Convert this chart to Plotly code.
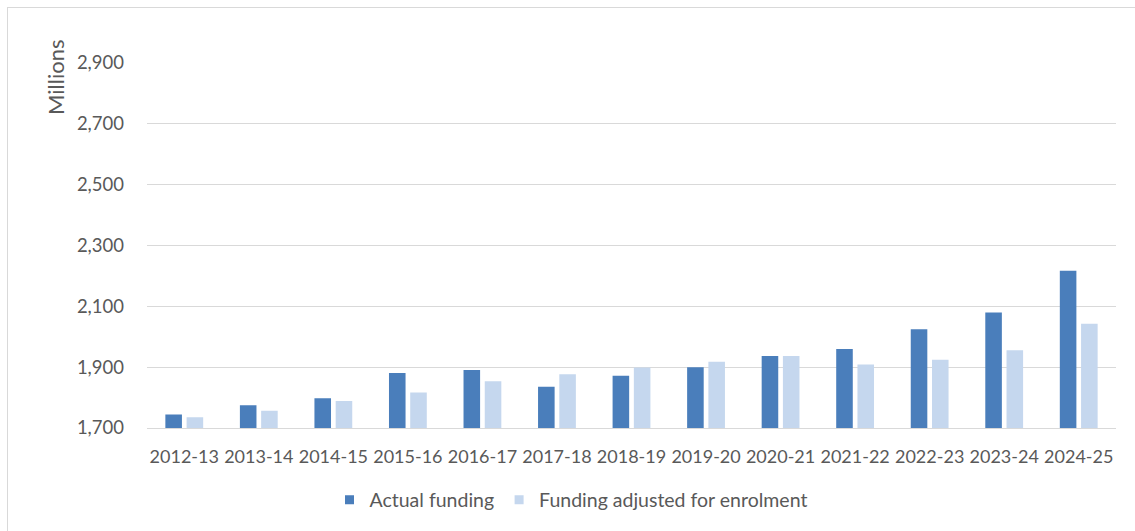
import plotly.graph_objects as go

# School years on the category axis
years = ["2012-13", "2013-14", "2014-15", "2015-16", "2016-17", "2017-18",
         "2018-19", "2019-20", "2020-21", "2021-22", "2022-23", "2023-24", "2024-25"]

# Funding in millions
actual_funding = [1744, 1775, 1798, 1881, 1891, 1836, 1872, 1900, 1937, 1960, 2025, 2080, 2217]
adjusted_funding = [1735, 1757, 1789, 1817, 1854, 1877, 1899, 1918, 1937, 1909, 1924, 1956, 2043]

y_ticks = [1700, 1900, 2100, 2300, 2500, 2700, 2900]
y_tick_text = [f"{v:,}" for v in y_ticks]

series = [("Actual funding", actual_funding, "#4a7ebb"),
          ("Funding adjusted for enrolment", adjusted_funding, "#c5d7ee")]

FONT = "Lato"
TEXT = "#595959"
GRID = "#d9d9d9"

fig = go.Figure()
for name, values, color in series:
    fig.add_trace(go.Bar(x=years, y=values, name=name, showlegend=False,
                         marker_color=color, marker_line_width=0))
# small square legend keys
for name, values, color in series:
    fig.add_trace(go.Scatter(x=[years[0]], y=[None], name=name, mode="markers",
                             marker=dict(symbol="square", size=9, color=color),
                             hoverinfo="skip"))

L, R, T, B = 147, 19, 63, 103
W, H = 1135, 531
pw, ph = W - L - R, H - T - B


def px_x(x):
    return (x - L) / pw


def px_y(y):
    return (H - B - y) / ph


fig.update_layout(
    width=W, height=H,
    margin=dict(l=L, r=R, t=T, b=B, pad=0, autoexpand=False),
    paper_bgcolor="white", plot_bgcolor="white",
    barmode="group", bargap=0.43, bargroupgap=0.22,
    font=dict(family=FONT, size=18, color=TEXT),
    showlegend=True,
    legend=dict(orientation="h", x=px_x(571), xanchor="center",
                y=px_y(500), yanchor="middle",
                font=dict(family=FONT, size=19.5, color=TEXT),
                itemwidth=30, tracegroupgap=0, traceorder="normal"),
    xaxis=dict(range=[-0.5, len(years) - 0.5],
               showgrid=False, showline=True, linecolor=GRID, linewidth=1,
               ticks="", ticklabelstandoff=12, tickangle=0, automargin=False,
               tickfont=dict(family=FONT, size=18, color=TEXT),
               fixedrange=True),
    yaxis=dict(range=[1700, 2900], tickvals=y_ticks, ticktext=y_tick_text,
               showgrid=True, gridcolor=GRID, gridwidth=1, zeroline=False,
               showline=False, ticks="", ticklabelstandoff=22, automargin=False,
               tickfont=dict(family=FONT, size=18.5, color=TEXT)),
    annotations=[dict(text="Millions", textangle=-90, showarrow=False,
                      xref="paper", yref="paper", x=px_x(55), y=px_y(78),
                      xanchor="center", yanchor="middle",
                      font=dict(family=FONT, size=22, color=TEXT))],
    shapes=[
        dict(type="line", xref="paper", yref="paper",
             x0=px_x(7), x1=px_x(W + 5), y0=px_y(7.5), y1=px_y(7.5),
             line=dict(color=GRID, width=1)),
        dict(type="line", xref="paper", yref="paper",
             x0=px_x(7.5), x1=px_x(7.5), y0=px_y(7), y1=px_y(H + 5),
             line=dict(color=GRID, width=1)),
    ],
)

fig.write_html("out.html")
